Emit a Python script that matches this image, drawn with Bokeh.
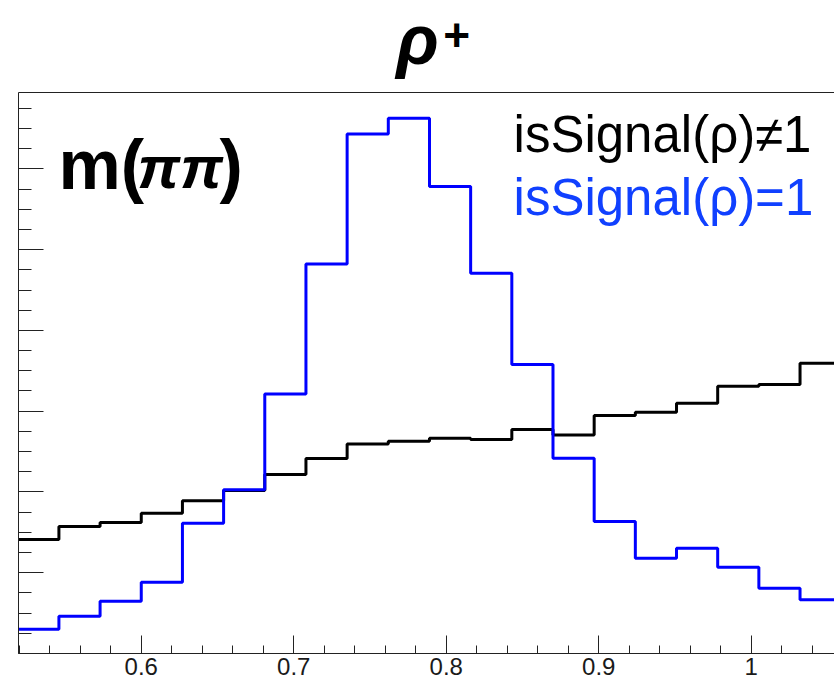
from bokeh.plotting import figure
from bokeh.layouts import column
from bokeh.models import Label, LinearAxis, FixedTicker, SingleIntervalTicker, Range1d, CustomJSTickFormatter
from bokeh.core.properties import value
from bokeh.embed import file_html
from bokeh.resources import INLINE

# m(pi pi) bin edges [GeV]
bin_edges = [0.519, 0.546, 0.573, 0.600, 0.627, 0.654, 0.681, 0.708, 0.735, 0.762,
             0.789, 0.816, 0.843, 0.870, 0.897, 0.924, 0.951, 0.978, 1.005, 1.032, 1.059]

# normalised candidate counts per bin
not_signal = [0.01411, 0.01572, 0.01621, 0.01737, 0.01890, 0.02017, 0.02215, 0.02413,
              0.02595, 0.02628, 0.02665, 0.02649, 0.02772, 0.02706, 0.02946, 0.02987,
              0.03098, 0.03308, 0.03329, 0.03593]
is_signal = [0.00301, 0.00462, 0.00647, 0.00882, 0.01613, 0.02026, 0.03214, 0.04823,
             0.06432, 0.06625, 0.05780, 0.04707, 0.03577, 0.02417, 0.01634, 0.01180,
             0.01303, 0.01068, 0.00808, 0.00665]

x_ticks = [0.6, 0.7, 0.8, 0.9, 1.0]
x_tick_labels = ["0.6", "0.7", "0.8", "0.9", "1"]
x_minor_ticks = [0.52, 0.54, 0.56, 0.58, 0.62, 0.64, 0.66, 0.68, 0.72, 0.74, 0.76, 0.78,
                 0.82, 0.84, 0.86, 0.88, 0.92, 0.94, 0.96, 0.98, 1.02, 1.04]

legend_texts = ["isSignal(\u03c1)\u22601", "isSignal(\u03c1)=1"]

FONT = "Liberation Sans"
W = 834
TITLE_H = 92
X0, X1 = 0.5195, 1.0546
Y0, Y1 = 0.0, 0.06945

# ---- title strip: rho^+ ----
head = figure(width=W, height=TITLE_H, output_backend="svg", toolbar_location=None,
              x_range=Range1d(0, W), y_range=Range1d(TITLE_H, 0),
              x_axis_location=None, y_axis_location=None, min_border=0)
head.outline_line_color = None
head.grid.grid_line_color = None
head.text(x=[386], y=[39.5], text=["\u03c1"], text_font=value(FONT), text_font_size="70px",
          text_font_style="bold italic", text_color="black", text_baseline="middle")
head.text(x=[434], y=[34], text=["+"], text_font=value(FONT), text_font_size="46px",
          text_font_style="bold", text_color="black", text_baseline="middle")

# ---- main histogram frame ----
p = figure(width=W, height=681 - TITLE_H, output_backend="svg", toolbar_location=None,
           x_range=Range1d(X0, X1), y_range=Range1d(Y0, Y1),
           min_border_left=18, min_border_right=0, min_border_top=0, min_border_bottom=28)
p.outline_line_color = None
p.xgrid.grid_line_color = None
p.ygrid.grid_line_color = None
p.background_fill_color = "white"
p.border_fill_color = "white"

# bottom axis with inward ticks
xa = p.xaxis[0]
xa.ticker = FixedTicker(ticks=x_ticks, minor_ticks=x_minor_ticks)
xa.major_label_overrides = dict(zip(x_ticks, x_tick_labels))
xa.major_tick_in = 18
xa.major_tick_out = 0
xa.minor_tick_in = 8
xa.minor_tick_out = 0
xa.axis_line_color = "#222222"
xa.major_tick_line_color = "#222222"
xa.minor_tick_line_color = "#222222"
xa.major_label_text_font = FONT
xa.major_label_text_font_size = "24px"
xa.major_label_text_color = "#1a1a1a"
xa.major_label_standoff = 4

# left axis, ticks only
ya = p.yaxis[0]
ya.ticker = SingleIntervalTicker(interval=0.01, num_minor_ticks=4)
ya.formatter = CustomJSTickFormatter(code="return ''")
ya.major_tick_in = 25
ya.major_tick_out = 0
ya.minor_tick_in = 13
ya.minor_tick_out = 0
ya.major_label_text_font_size = "0px"
ya.major_label_standoff = 0
ya.axis_line_color = "#222222"
ya.major_tick_line_color = "#222222"
ya.minor_tick_line_color = "#222222"

# frame top edge
top = LinearAxis(major_tick_in=0, major_tick_out=0, minor_tick_in=0, minor_tick_out=0,
                 major_label_text_font_size="0px", major_label_standoff=0,
                 axis_line_color="#222222",
                 formatter=CustomJSTickFormatter(code="return ''"))
p.add_layout(top, "above")

# histograms drawn as outlines
p.step(bin_edges, not_signal + [not_signal[-1]], mode="after", line_color="black", line_width=3)
p.step(bin_edges, is_signal + [is_signal[-1]], mode="after", line_color="#0000ff", line_width=3)


def xd(px):
    return 0.6 + (px - 140.7) / 1525.0


def yd(py):
    return (653.0 - py) / 8078.0


# variable label m(pi pi)
p.add_layout(Label(x=xd(58), y=yd(164), text="m(", text_font=FONT, text_font_size="70px",
                   text_font_style="bold", text_color="black", text_baseline="middle"))
p.add_layout(Label(x=xd(137), y=yd(167), text="\u03c0\u03c0", text_font=FONT, text_font_size="60px",
                   text_font_style="bold italic", text_color="black", text_baseline="middle"))
p.add_layout(Label(x=xd(219), y=yd(164), text=")", text_font=FONT, text_font_size="70px",
                   text_font_style="bold", text_color="black", text_baseline="middle"))

# legend entries
p.add_layout(Label(x=xd(513), y=yd(134), text=legend_texts[0], text_font=FONT, text_font_size="51px",
                   text_color="black", text_baseline="middle"))
p.add_layout(Label(x=xd(513), y=yd(197), text=legend_texts[1], text_font=FONT, text_font_size="51px",
                   text_color="#1040ff", text_baseline="middle"))

open("out.html", "w").write(file_html(column(head, p, spacing=0), INLINE))
